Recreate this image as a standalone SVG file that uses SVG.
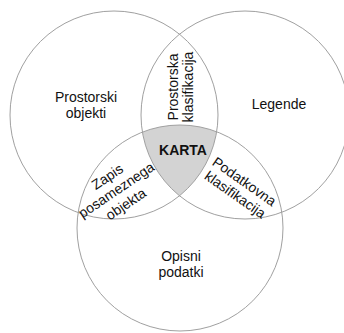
<svg xmlns="http://www.w3.org/2000/svg" width="344" height="333" viewBox="0 0 344 333">
<style>
.c{fill:none;stroke:#a0a0a0;stroke-width:1}
.t{font-family:"Liberation Sans",Arial,sans-serif;font-size:14px;fill:#111;text-anchor:middle}
.b{font-weight:bold}
</style>
<defs>
<clipPath id="cL"><circle cx="114" cy="115" r="104"/></clipPath>
<clipPath id="cR"><circle cx="245" cy="115" r="104"/></clipPath>
</defs>
<rect width="344" height="333" fill="#fff"/>
<g id="center-fill" clip-path="url(#cL)">
<circle cx="180" cy="228" r="103" fill="#d3d3d3" clip-path="url(#cR)"/>
</g>
<g id="prostorski-objekti">
<circle class="c" cx="114" cy="115" r="104"/>
<text class="t" x="86" y="102">Prostorski</text>
<text class="t" x="86" y="118">objekti</text>
</g>
<g id="legende">
<circle class="c" cx="245" cy="115" r="104"/>
<text class="t" x="279" y="109">Legende</text>
</g>
<g id="opisni-podatki">
<circle class="c" cx="180" cy="228" r="103"/>
<text class="t" x="181" y="261">Opisni</text>
<text class="t" x="181" y="277">podatki</text>
</g>
<g id="karta">
<text class="t b" x="183" y="155">KARTA</text>
</g>
<g id="prostorska-klasifikacija" transform="translate(170,87) rotate(-90)">
<text class="t" x="0" y="8">Prostorska</text>
<text class="t" x="0" y="23">klasifikacija</text>
</g>
<g id="zapis-posameznega-objekta" transform="translate(119,194) rotate(-34)">
<text class="t" x="0" y="-16">Zapis</text>
<text class="t" x="0" y="0">posameznega</text>
<text class="t" x="0" y="17">objekta</text>
</g>
<g id="podatkovna-klasifikacija" transform="translate(237,192) rotate(35)">
<text class="t" x="0" y="-8">Podatkovna</text>
<text class="t" x="0" y="8">klasifikacija</text>
</g>
</svg>
